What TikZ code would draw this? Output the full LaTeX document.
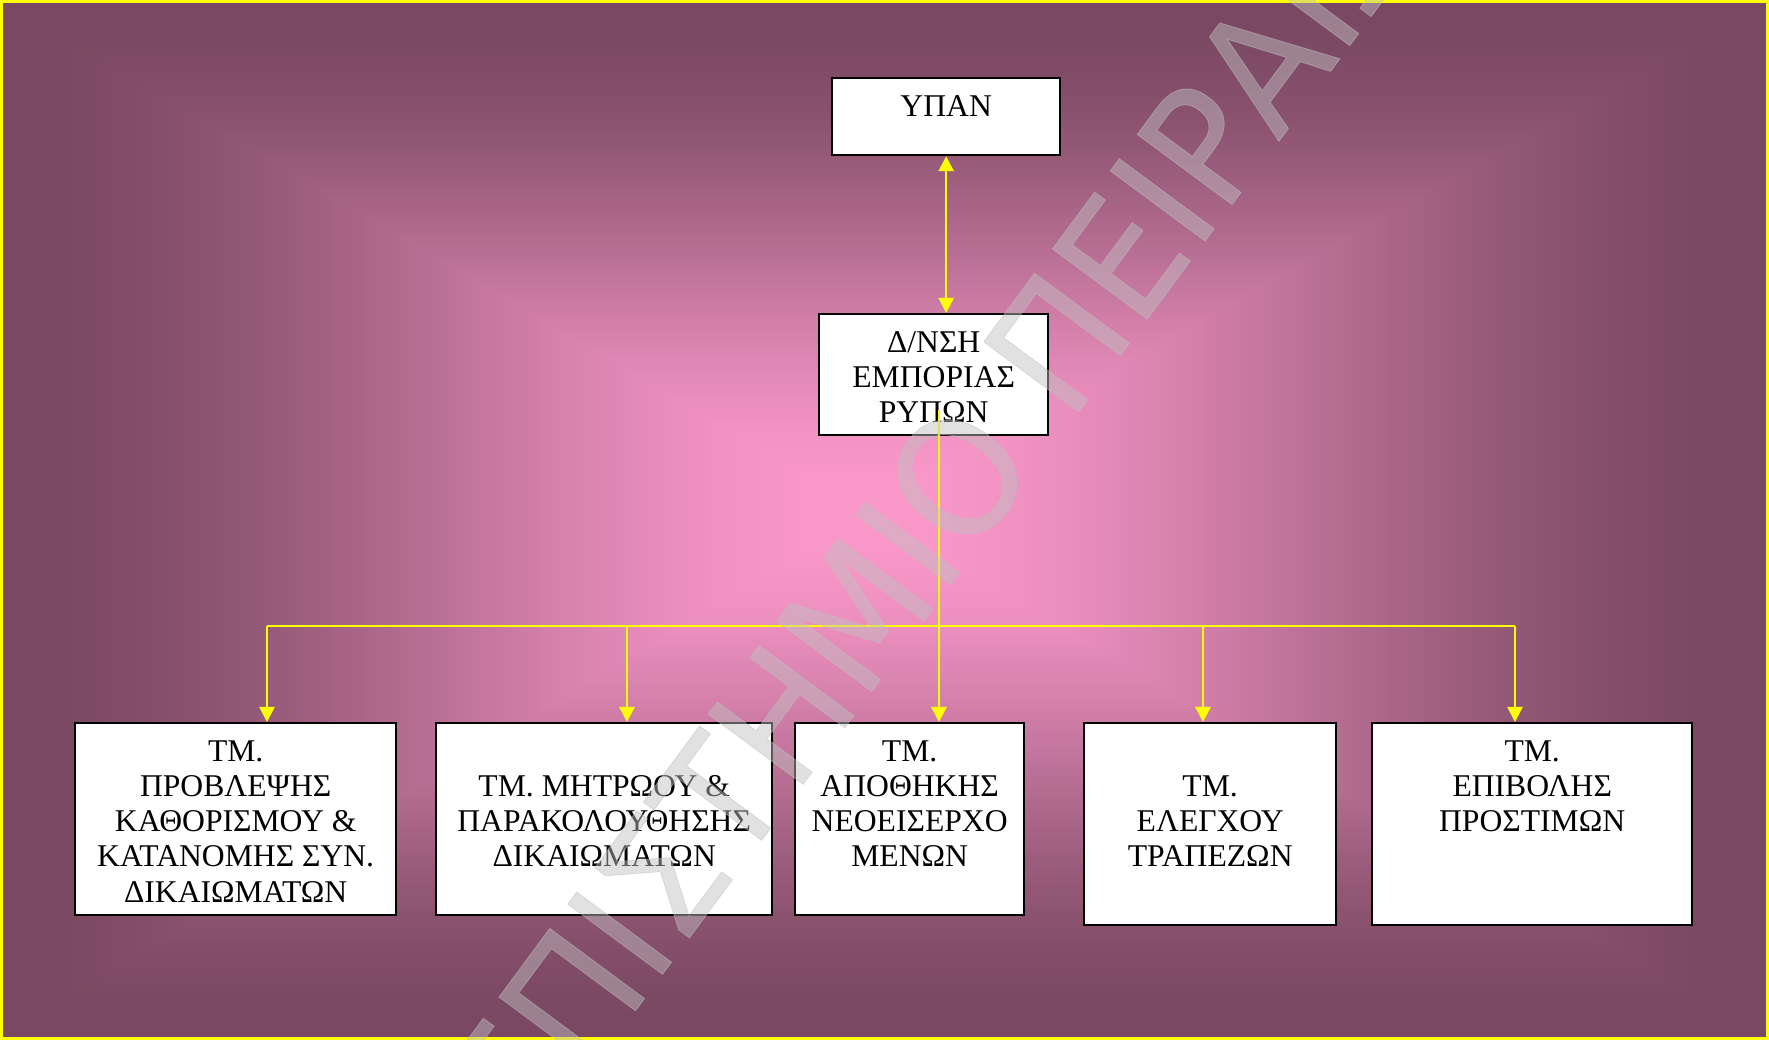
\documentclass[tikz,border=0pt]{standalone}
\usepackage{fontspec}
\setmainfont{Liberation Serif}
\newfontfamily\wmfont[FakeStretch=0.95,FakeBold=0.5]{DejaVu Sans}
\usetikzlibrary{arrows.meta,calc}

\definecolor{bgedge}{RGB}{122,72,98}
\definecolor{bgmid}{RGB}{250,152,202}
\definecolor{wmgray}{RGB}{192,192,192}
\definecolor{linkyellow}{RGB}{255,255,0}

% text block of a unit box: fixed size, lines set from the top
\newcommand\unittext[3]{\parbox[c][#2][t]{#1}{\vspace*{0.134cm}\centering\strut #3\par}}

\begin{document}
\begin{tikzpicture}[x=0.01cm,y=-0.01cm,
  unitbox/.style={draw=black, line width=0.022cm, fill=white, inner sep=0pt,
    anchor=north west, font=\fontsize{9}{10.02}\selectfont},
  link/.style={draw=linkyellow, line width=0.024cm},
  tip/.style={-{Triangle[width=0.15cm,length=0.15cm]}},
  bothtips/.style={{Triangle[width=0.15cm,length=0.15cm]}-{Triangle[width=0.15cm,length=0.15cm]}},
  stamp/.style={font=\wmfont\fontsize{46}{50}\selectfont, text=wmgray,
    text opacity=0.47, inner sep=0pt, rotate=53.5},
]
\def\W{1769}\def\H{1040}\def\cx{865}\def\cy{512}
\useasboundingbox (0,0) rectangle (\W,\H);

% rectangular gradient from the centre outwards, as nested filled frames
\foreach \i in {160,159,...,1}{
  \pgfmathsetmacro\ringt{\i/160}
  \pgfmathsetmacro\ringf{100*(3*\ringt*\ringt-2*\ringt*\ringt*\ringt)}
  \colorlet{ringc}{bgedge!\ringf!bgmid}
  \fill[ringc] ({\cx-\ringt*\cx},{\cy-\ringt*\cy})
    rectangle ({\cx+\ringt*(\W-\cx)},{\cy+\ringt*(\H-\cy)});
}

% page frame
\draw[linkyellow, line width=0.03cm] (1.5,1.5) rectangle ({\W-1.5},{\H-1.5});

% units
\node[unitbox] (ypan) at (831,77) {\unittext{2.28cm}{0.77cm}{ΥΠΑΝ}};
\node[unitbox] (dir) at (818,313) {\unittext{2.29cm}{1.21cm}{Δ/ΝΣΗ\\ΕΜΠΟΡΙΑΣ\\ΡΥΠΩΝ}};
\node[unitbox] (b1) at (74,722) {\unittext{3.21cm}{1.92cm}{ΤΜ.\\ΠΡΟΒΛΕΨΗΣ\\ΚΑΘΟΡΙΣΜΟΥ \&\\ΚΑΤΑΝΟΜΗΣ ΣΥΝ.\\ΔΙΚΑΙΩΜΑΤΩΝ}};
\node[unitbox] (b2) at (435,722) {\unittext{3.36cm}{1.92cm}{\strut\\ΤΜ. ΜΗΤΡΩΟΥ \&\\ΠΑΡΑΚΟΛΟΥΘΗΣΗΣ\\ΔΙΚΑΙΩΜΑΤΩΝ}};
\node[unitbox] (b3) at (794,722) {\unittext{2.29cm}{1.92cm}{ΤΜ.\\ΑΠΟΘΗΚΗΣ\\ΝΕΟΕΙΣΕΡΧΟ\\ΜΕΝΩΝ}};
\node[unitbox] (b4) at (1083,722) {\unittext{2.52cm}{2.02cm}{\strut\\ΤΜ.\\ΕΛΕΓΧΟΥ\\ΤΡΑΠΕΖΩΝ}};
\node[unitbox] (b5) at (1371,722) {\unittext{3.20cm}{2.02cm}{ΤΜ.\\ΕΠΙΒΟΛΗΣ\\ΠΡΟΣΤΙΜΩΝ}};

% connector points
\coordinate (dsrc) at (939,410);
\coordinate (d1) at (267,626);
\coordinate (d2) at (627,626);
\coordinate (d4) at (1203,626);
\coordinate (d5) at (1515,626);

% connectors
\draw[link, bothtips] (ypan.south) -- (ypan.south |- dir.north);
\draw[link, tip] (dsrc) -- (dsrc |- b3.north);
\draw[link] (d1) -- (d5);
\draw[link, tip] (d1) -- (d1 |- b1.north);
\draw[link, tip] (d2) -- (d2 |- b2.north);
\draw[link, tip] (d4) -- (d4 |- b4.north);
\draw[link, tip] (d5) -- (d5 |- b5.north);

% watermark
\begin{scope}
\clip (0,0) rectangle (\W,\H);
\node[stamp] (wm) at (864,603) {ΠΑΝΕΠΙΣΤΗΜΙΟ ΠΕΙΡΑΙΩΣ};
\end{scope}
\end{tikzpicture}
\end{document}
